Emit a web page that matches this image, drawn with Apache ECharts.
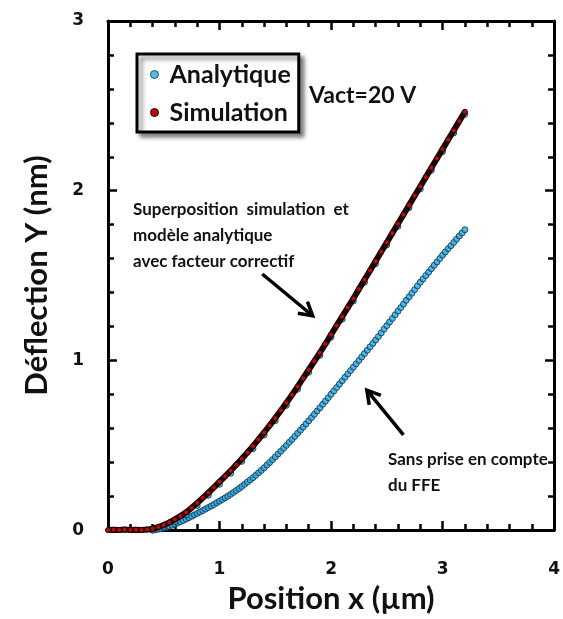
<!DOCTYPE html>
<html><head><meta charset="utf-8">
<script src="https://cdn.jsdelivr.net/npm/echarts@6/dist/echarts.min.js"></script>
<style>html,body{margin:0;padding:0;background:#fff}#c{width:563px;height:619px}</style>
</head><body><div id="c"></div>
<script>
// ---- data ----
const xTickValues = [0, 1, 2, 3, 4];
const yTickValues = [0, 1, 2, 3];
const seriesNames = ['Analytique', 'Simulation'];

// Analytique (sans prise en compte du FFE): [x (µm), y (nm)]
const analytique = [
[0.400,0.000],[0.425,0.002],[0.450,0.005],[0.475,0.008],[0.500,0.012],[0.525,0.017],[0.550,0.023],[0.575,0.029],
[0.600,0.035],[0.625,0.042],[0.650,0.050],[0.675,0.057],[0.700,0.065],[0.725,0.073],[0.750,0.081],[0.775,0.090],
[0.800,0.098],[0.825,0.107],[0.850,0.115],[0.875,0.124],[0.900,0.133],[0.925,0.142],[0.950,0.151],[0.975,0.161],
[1.000,0.170],[1.025,0.180],[1.050,0.190],[1.075,0.200],[1.100,0.211],[1.125,0.222],[1.150,0.233],[1.175,0.245],
[1.200,0.257],[1.225,0.270],[1.250,0.283],[1.275,0.296],[1.300,0.309],[1.325,0.323],[1.350,0.338],[1.375,0.352],
[1.400,0.367],[1.425,0.383],[1.450,0.399],[1.475,0.415],[1.500,0.431],[1.525,0.448],[1.550,0.465],[1.575,0.482],
[1.600,0.499],[1.625,0.517],[1.650,0.534],[1.675,0.552],[1.700,0.570],[1.725,0.588],[1.750,0.607],[1.775,0.625],
[1.800,0.644],[1.825,0.663],[1.850,0.682],[1.875,0.702],[1.900,0.721],[1.925,0.741],[1.950,0.760],[1.975,0.780],
[2.000,0.800],[2.025,0.820],[2.050,0.840],[2.075,0.860],[2.100,0.880],[2.125,0.900],[2.150,0.920],[2.175,0.940],
[2.200,0.960],[2.225,0.980],[2.250,1.000],[2.275,1.020],[2.300,1.040],[2.325,1.060],[2.350,1.080],[2.375,1.100],
[2.400,1.120],[2.425,1.141],[2.450,1.162],[2.475,1.184],[2.500,1.205],[2.525,1.226],[2.550,1.247],[2.575,1.269],
[2.600,1.290],[2.625,1.311],[2.650,1.332],[2.675,1.354],[2.700,1.375],[2.725,1.396],[2.750,1.417],[2.775,1.439],
[2.800,1.460],[2.825,1.480],[2.850,1.500],[2.875,1.520],[2.900,1.540],[2.925,1.560],[2.950,1.580],[2.975,1.600],
[3.000,1.620],[3.025,1.639],[3.050,1.658],[3.075,1.676],[3.100,1.695],[3.125,1.714],[3.150,1.733],[3.175,1.751],
[3.200,1.770]
];

// Analytique avec facteur correctif (mostly hidden under the simulation)
const analytiqueCorrige = [
[0.4,0.000],[0.5,0.020],[0.6,0.050],[0.7,0.090],[0.8,0.145],[0.9,0.205],[1.0,0.270],[1.1,0.335],[1.2,0.405],
[1.3,0.480],[1.4,0.560],[1.5,0.645],[1.6,0.735],[1.7,0.830],[1.8,0.930],[1.9,1.030],[2.0,1.137],[2.1,1.243],
[2.2,1.350],[2.3,1.460],[2.4,1.570],[2.5,1.680],[2.6,1.790],[2.7,1.900],[2.8,2.010],[2.9,2.120],[3.0,2.230],
[3.1,2.340],[3.2,2.450]
];

// Simulation: [x (µm), y (nm)]
const simulation = [
[0.00,0.000],[0.05,0.002],[0.10,0.000],[0.15,0.003],[0.20,0.001],[0.25,0.002],[0.30,0.000],[0.35,0.003],
[0.40,0.008],[0.45,0.018],[0.50,0.030],[0.55,0.045],[0.60,0.063],[0.65,0.083],[0.70,0.105],[0.75,0.131],
[0.80,0.160],[0.85,0.190],[0.90,0.220],[0.95,0.252],[1.00,0.285],[1.05,0.317],[1.10,0.350],[1.15,0.385],
[1.20,0.420],[1.25,0.457],[1.30,0.495],[1.35,0.535],[1.40,0.575],[1.45,0.617],[1.50,0.660],[1.55,0.705],
[1.60,0.750],[1.65,0.797],[1.70,0.845],[1.75,0.895],[1.80,0.945],[1.85,0.995],[1.90,1.045],[1.95,1.097],
[2.00,1.152],[2.05,1.205],[2.10,1.258],[2.15,1.311],[2.20,1.365],[2.25,1.420],[2.30,1.475],[2.35,1.530],
[2.40,1.585],[2.45,1.640],[2.50,1.695],[2.55,1.750],[2.60,1.805],[2.65,1.860],[2.70,1.915],[2.75,1.970],
[2.80,2.025],[2.85,2.080],[2.90,2.135],[2.95,2.190],[3.00,2.245],[3.05,2.300],[3.10,2.355],[3.15,2.410],
[3.20,2.465]
];

// annotation arrows in data coordinates: [tail, tip]
const arrowSuperposition = [[1.383, 1.509], [1.835, 1.263]];
const arrowSansFFE = [[2.649, 0.561], [2.321, 0.825]];

// ---- chart ----
const chart = echarts.init(document.getElementById('c'), null, {renderer: 'canvas'});
const TXT = 'Lato, "Open Sans", sans-serif';
const NUM = '"DejaVu Sans", sans-serif';
const BLUE = {color: '#29abe2', borderColor: '#0f2b44', borderWidth: 1};
const RED = {color: '#b01010', borderColor: '#2a0000', borderWidth: 1};

function axisBase(pos, showLabel, isX) {
  return {
    type: 'value', position: pos, min: 0, max: isX ? 4 : 3, interval: 1,
    axisLine: {show: true, onZero: false, lineStyle: {color: '#000', width: 3}},
    axisTick: {show: true, inside: true, length: 9, lineStyle: {color: '#000', width: 2.5}},
    minorTick: {show: true, splitNumber: 5, length: 6, lineStyle: {color: '#000', width: 2.5}},
    splitLine: {show: false}, minorSplitLine: {show: false},
    axisLabel: {show: showLabel, margin: isX ? 31 : 24, color: '#111', fontFamily: NUM, fontWeight: 'bold', fontSize: 17,
      showMinLabel: true, showMaxLabel: true}
  };
}

const xBottom = Object.assign(axisBase('bottom', true, true), {
  name: 'Position x (µm)', nameLocation: 'middle', nameGap: 52,
  nameTextStyle: {fontFamily: TXT, fontWeight: 'bold', fontSize: 31, color: '#111'}
});
const xTop = axisBase('top', false, true);
const yLeft = Object.assign(axisBase('left', true, false), {
  name: 'Déflection Y (nm)', nameLocation: 'middle', nameGap: 56, nameRotate: 90,
  nameTextStyle: {fontFamily: TXT, fontWeight: 'bold', fontSize: 31, color: '#111'}
});
const yRight = axisBase('right', false, false);

chart.setOption({
  animation: false,
  backgroundColor: '#fff',
  grid: {left: 108, right: 4, top: 21, bottom: 85, containLabel: false},
  xAxis: [xBottom, xTop],
  yAxis: [yLeft, yRight],
  legend: {
    data: [
      {name: seriesNames[0], icon: 'circle', itemStyle: BLUE},
      {name: seriesNames[1], icon: 'circle', itemStyle: RED}
    ],
    orient: 'vertical', left: 137, top: 54,
    padding: [8, 8, 7, 13], itemGap: 13, itemWidth: 20, itemHeight: 8,
    backgroundColor: '#fff', borderColor: '#000', borderWidth: 3,
    shadowColor: 'rgba(0,0,0,0.45)', shadowBlur: 4, shadowOffsetX: 4, shadowOffsetY: 4,
    textStyle: {fontFamily: TXT, fontWeight: 'bold', fontSize: 25, color: '#111'}
  },
  series: [
    {
      name: seriesNames[0], type: 'scatter', xAxisIndex: 0, yAxisIndex: 0,
      data: analytique, symbol: 'circle', symbolSize: 6, itemStyle: BLUE
    },
    {
      name: 'Analytique corrigé', type: 'scatter', xAxisIndex: 0, yAxisIndex: 0,
      data: analytiqueCorrige, symbol: 'circle', symbolSize: 6, itemStyle: BLUE
    },
    {
      name: seriesNames[1], type: 'line', xAxisIndex: 0, yAxisIndex: 0,
      data: simulation, smooth: false, showSymbol: true, symbol: 'circle', symbolSize: 5,
      lineStyle: {color: '#1c0303', width: 6},
      itemStyle: RED
    }
  ]
});

function arrowGraphic(pair) {
  const p0 = chart.convertToPixel({xAxisIndex: 0, yAxisIndex: 0}, pair[0]);
  const p1 = chart.convertToPixel({xAxisIndex: 0, yAxisIndex: 0}, pair[1]);
  const dx = p1[0] - p0[0], dy = p1[1] - p0[1];
  const L = Math.hypot(dx, dy), ux = dx / L, uy = dy / L;
  const head = 15, ang = Math.PI / 6;
  const cos = Math.cos(ang), sin = Math.sin(ang);
  const w1 = [p1[0] - head * (ux * cos - uy * sin), p1[1] - head * (uy * cos + ux * sin)];
  const w2 = [p1[0] - head * (ux * cos + uy * sin), p1[1] - head * (uy * cos - ux * sin)];
  const st = {stroke: '#000', lineWidth: 3.5, fill: null, lineJoin: 'miter'};
  return [
    {type: 'polyline', shape: {points: [p0, p1]}, style: st, z: 50},
    {type: 'polyline', shape: {points: [w1, p1, w2]}, style: st, z: 50}
  ];
}

const txtStyle = (t, x, y, size) => ({type: 'text', left: x, top: y, z: 60,
  style: {text: t, fontFamily: TXT, fontWeight: 'bold', fontSize: size, fill: '#111', lineHeight: 26}});

chart.setOption({
  graphic: [
    txtStyle('Vact=20 V', 309, 83, 23),
    txtStyle('Superposition  simulation  et\nmodèle analytique\navec facteur correctif', 133, 197, 17),
    txtStyle('Sans prise en compte\ndu FFE', 388, 447, 17)
  ].concat(arrowGraphic(arrowSuperposition), arrowGraphic(arrowSansFFE))
});
</script>
</body></html>
